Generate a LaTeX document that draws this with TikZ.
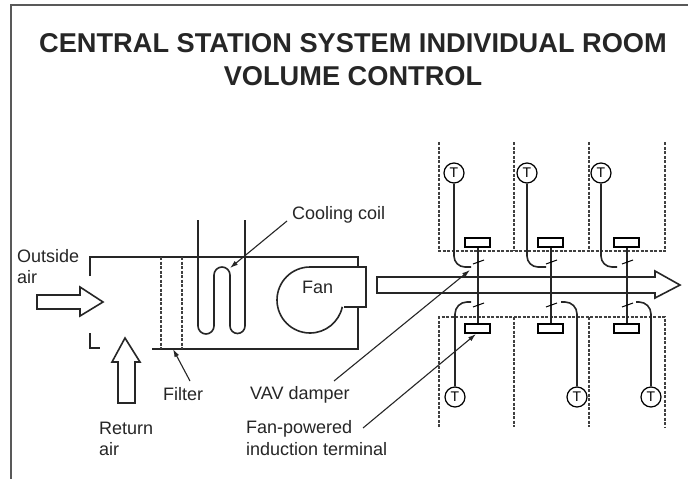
\documentclass[tikz,border=0pt]{standalone}
\usepackage{fontspec}
\setmainfont{Liberation Sans}
\usetikzlibrary{arrows.meta}
\tikzset{
  label text/.style={inner sep=0pt,anchor=base west,font=\fontsize{18}{20}\selectfont,text=black!85},
  title text/.style={inner sep=0pt,anchor=base,font=\bfseries\fontsize{27.2}{30}\selectfont,text=black!85},
  tstat/.style={draw,circle,line width=1.2pt,minimum size=20pt,inner sep=0pt,font=\fontsize{14}{14}\selectfont},
  wall/.style={line width=1.6pt,black!85},
  room/.style={line width=1.4pt,dash pattern=on 3pt off 1.5pt,black!75},
  leader/.style={line width=1.1pt,black!85,-{Latex[length=8pt,width=5pt]}},
}
\begin{document}
\begin{tikzpicture}[x=1pt,y=-1pt]
    \useasboundingbox (0,0) rectangle (688,479);
    \fill[white] (0,0) rectangle (688,479);
    \draw[line width=2pt,black!65] (11,479)--(11,5)--(688,5);
    \node[title text] (title1) at (353,52) {CENTRAL STATION SYSTEM INDIVIDUAL ROOM};
    \node[title text] (title2) at (353,85) {VOLUME CONTROL};

    \draw[wall] (90,276)--(90,257)--(358,257)--(358,267);
    \draw[wall] (90,333)--(90,348)--(100,348);
    \draw[wall] (152,349)--(358,349)--(358,307);
    \draw[room] (161,257)--(161,349);
    \draw[room] (182,257)--(182,349);
    \draw[wall] (198,220)--(198,326) arc (180:0:8)--(214,275) arc (180:360:8)--(230,326) arc (180:0:7.5)--(245,220);
    \draw[wall] (310,267)--(366,267)--(366,307)--(344,307);
    \draw[wall] (310,267) arc (-90:-348:33);

    \draw[wall,fill=white] (37,295)--(80,295)--(80,287)--(103,302)--(80,316)--(80,309)--(37,309)--cycle;
    \draw[wall,fill=white] (118,403)--(118,362)--(112,362)--(125,338)--(140,362)--(135,362)--(135,403)--cycle;
    \draw[wall,fill=white] (377,277)--(655,277)--(655,271)--(680,285)--(655,298)--(655,293)--(377,293)--cycle;

    \draw[room] (439,142)--(439,251)--(665,251)--(665,142);
    \draw[room] (439,427)--(439,317)--(665,317)--(665,427);
    \foreach \x in {514,589} {
      \draw[room] (\x,142)--(\x,251);
      \draw[room] (\x,317)--(\x,427);
    }
    \foreach \x in {478,551,627} {
      \draw[wall] (\x,247)--(\x,324);
      \draw[line width=1.2pt,fill=white] (\x-13,238) rectangle (\x+12,247);
      \draw[line width=1.2pt,fill=white] (\x-13,324) rectangle (\x+12,333);
      \draw[line width=1pt] (\x-5,264)--(\x+6,260);
      \draw[line width=1pt] (\x-5,307)--(\x+6,303);
    }
    \node[tstat] (t1) at (454,173) {T};
    \node[tstat] (t2) at (527,173) {T};
    \node[tstat] (t3) at (601,173) {T};
    \node[tstat] (t4) at (455,397) {T};
    \node[tstat] (t5) at (577,397) {T};
    \node[tstat] (t6) at (651,397) {T};
    \coordinate (d1) at (471,267);
    \coordinate (d2) at (546,267);
    \coordinate (d3) at (617,267);
    \coordinate (d4) at (471,302);
    \coordinate (d5) at (561,302);
    \coordinate (d6) at (636,302);
    \draw[wall] (t1.south)--(454,256) arc (180:90:11)--(d1);
    \draw[wall] (t2.south)--(527,256) arc (180:90:11)--(d2);
    \draw[wall] (t3.south)--(601,256) arc (180:90:11)--(d3);
    \draw[wall] (t4.north)--(455,314) arc (180:270:12)--(d4);
    \draw[wall] (t5.north)--(577,314) arc (0:-90:12)--(d5);
    \draw[wall] (t6.north)--(651,314) arc (0:-90:12)--(d6);

    \node[label text] (outside) at (17,262) {Outside};
    \node[label text] (outsideb) at (17,283) {air};
    \node[label text] (return) at (99,434) {Return};
    \node[label text] (returnb) at (99,455) {air};
    \node[label text] (filter) at (163,400) {Filter};
    \node[label text] (fan) at (302,293) {Fan};
    \node[label text] (coil) at (292,219) {Cooling coil};
    \node[label text] (vav) at (250,399) {VAV damper};
    \node[label text] (terminal) at (246,433) {Fan-powered};
    \node[label text] (terminalb) at (246,455) {induction terminal};

    \coordinate (coilend) at (287,221);
    \coordinate (coiltip) at (230,268);
    \coordinate (filterend) at (190,381);
    \coordinate (filtertip) at (173,349);
    \coordinate (vavend) at (334,381);
    \coordinate (vavtip) at (470,270);
    \coordinate (termend) at (363,428);
    \coordinate (termtip) at (476,334);
    \draw[leader] (coilend) -- (coiltip);
    \draw[leader] (filterend) -- (filtertip);
    \draw[leader] (vavend) -- (vavtip);
    \draw[leader] (termend) -- (termtip);
\end{tikzpicture}
\end{document}
